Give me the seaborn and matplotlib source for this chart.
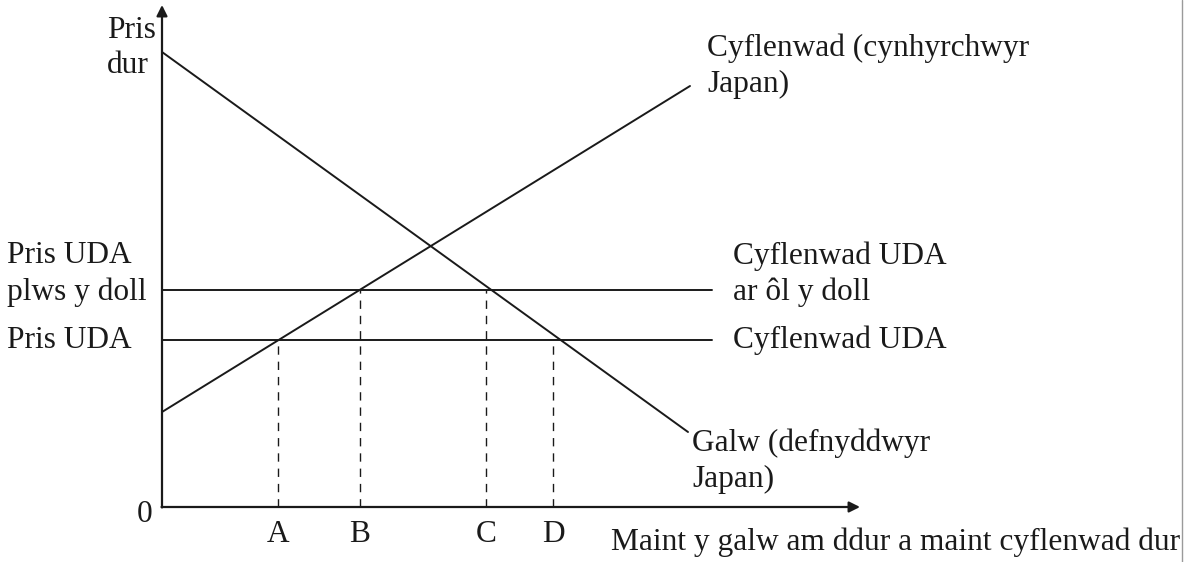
import matplotlib
matplotlib.use("Agg")
import matplotlib.pyplot as plt
import pandas as pd
import seaborn as sns

# values (quantity / price units, origin at the axes corner)
demand_q = [0.0, 52.6]
demand_p = [45.5, 7.5]
supply_q = [0.0, 52.8]
supply_p = [9.5, 42.1]
world_price = 16.7
tariff_price = 21.7
price_line_end = 55.0
quantity_marks = {"A": 11.6, "B": 19.8, "C": 32.4, "D": 39.1}
mark_top = {"A": world_price, "B": tariff_price, "C": tariff_price, "D": world_price}

sns.set_theme(style="white")
plt.rcParams["font.family"] = ["Liberation Serif", "DejaVu Serif"]

curves = pd.concat([
    pd.DataFrame({"q": demand_q, "p": demand_p, "curve": "Galw"}),
    pd.DataFrame({"q": supply_q, "p": supply_p, "curve": "Cyflenwad"}),
])

fig = plt.figure(figsize=(11.84, 5.62), dpi=100)
ax = fig.add_axes([0, 0, 1, 1])
ax.set_xlim(-16.2, 102.2)
ax.set_ylim(-5.5, 50.7)
ax.axis("off")

ink = "#1a1a1a"
fs = 22.6
ls = 1.3

sns.lineplot(data=curves, x="q", y="p", units="curve", estimator=None,
             color=ink, linewidth=1.4, ax=ax, legend=False)

for price in (world_price, tariff_price):
    ax.plot([0, price_line_end], [price, price], color=ink, linewidth=1.4)

for name, q in quantity_marks.items():
    ax.plot([q, q], [0, mark_top[name]], color=ink, linewidth=1.0,
            linestyle=(0, (6, 5)))
    ax.text(q, -1.3, name, ha="center", va="top", fontsize=fs, color=ink)

# axes with arrow heads
arrow = dict(arrowstyle="-|>", color=ink, linewidth=1.6,
             mutation_scale=16, shrinkA=0, shrinkB=0)
ax.annotate("", xy=(0, 50.2), xytext=(0, -0.05), arrowprops=arrow)
ax.annotate("", xy=(69.8, 0), xytext=(-0.05, 0), arrowprops=arrow)

ax.text(-1.7, -0.7, "0", ha="center", va="center", fontsize=fs, color=ink)
ax.text(-5.5, 45.9, "Pris\ndur", ha="left", va="center", fontsize=fs,
        color=ink, linespacing=ls)
ax.text(-15.5, 23.3, "Pris UDA\nplws y doll", ha="left", va="center",
        fontsize=fs, color=ink, linespacing=ls)
ax.text(-15.5, world_price, "Pris UDA", ha="left", va="center",
        fontsize=fs, color=ink)
ax.text(54.5, 44.1, "Cyflenwad (cynhyrchwyr\nJapan)", ha="left",
        va="center", fontsize=fs, color=ink, linespacing=ls)
ax.text(57.1, 23.3, "Cyflenwad UDA\nar ôl y doll", ha="left", va="center",
        fontsize=fs, color=ink, linespacing=ls)
ax.text(57.1, world_price, "Cyflenwad UDA", ha="left", va="center",
        fontsize=fs, color=ink)
ax.text(53.0, 4.6, "Galw (defnyddwyr\nJapan)", ha="left", va="center",
        fontsize=fs, color=ink, linespacing=ls)
ax.text(101.8, -3.5, "Maint y galw am ddur a maint cyflenwad dur",
        ha="right", va="center", fontsize=fs, color=ink)

# thin frame edge on the right
ax.plot([102.0, 102.0], [-5.5, 50.7], color="#9a9a9a", linewidth=1.0)

fig.savefig("out.png", dpi=100, facecolor="white")
